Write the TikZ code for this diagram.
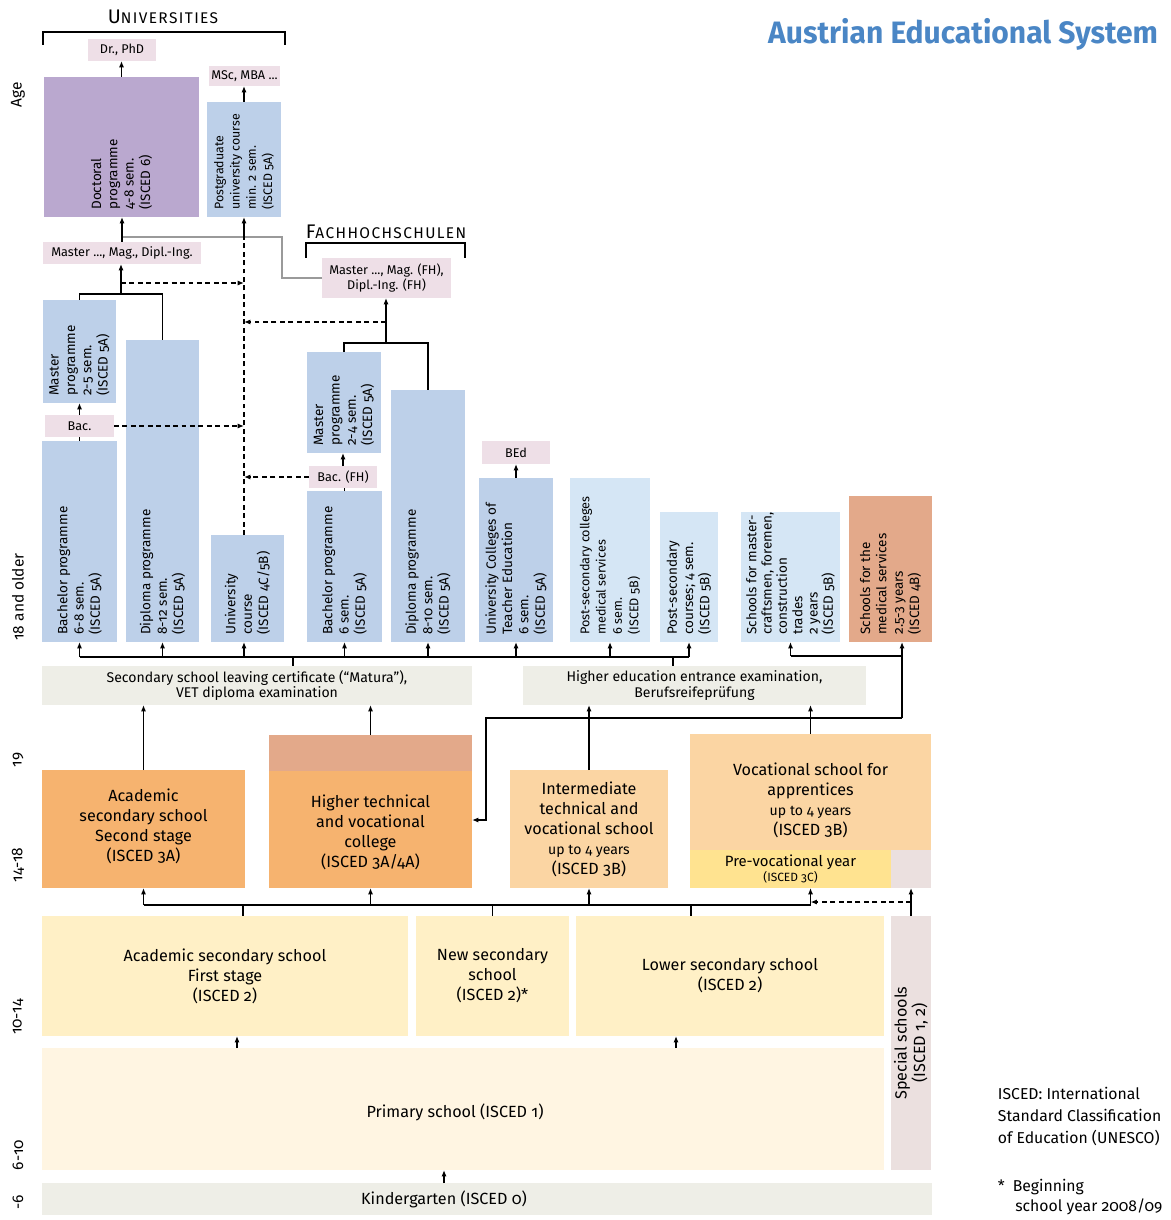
\documentclass[tikz,border=0pt]{standalone}
\usepackage{fontspec}
\setmainfont{Fira Sans}[Numbers=OldStyle]
\usepackage{graphicx}
\usepackage{tikz}
\usetikzlibrary{fit,arrows.meta}

\definecolor{tagpink}{HTML}{EEDFE7}
\definecolor{docpurple}{HTML}{BAA8CF}
\definecolor{progblue}{HTML}{BDD0E9}
\definecolor{paleblue}{HTML}{D5E6F5}
\definecolor{salmon}{HTML}{E3A98A}
\definecolor{deeporange}{HTML}{F6B36F}
\definecolor{softorange}{HTML}{FBD5A3}
\definecolor{preyellow}{HTML}{FFE390}
\definecolor{lowyellow}{HTML}{FFF0C6}
\definecolor{primyellow}{HTML}{FFF5E2}
\definecolor{bargrey}{HTML}{EEEEE7}
\definecolor{specgrey}{HTML}{EBE0DF}
\definecolor{titleblue}{HTML}{4A86C5}
\definecolor{linegrey}{HTML}{9A9A9A}

\begin{document}
\begin{tikzpicture}[x=0.025cm, y=-0.025cm,
    box/.style={inner sep=0pt, outer sep=0pt},
    tag/.style={box, fill=tagpink},
    prog/.style={box, fill=progblue},
    tagtext/.style={align=center, inner sep=0pt, font=\fontsize{9}{10.8}\selectfont},
    schooltext/.style={align=center, inner sep=0pt, font=\fontsize{11.5}{14.2}\selectfont},
    bartext/.style={align=center, inner sep=0pt, font=\fontsize{10}{11.3}\selectfont},
    vlabel/.style={rotate=90, anchor=west, align=left, inner sep=0pt, font=\fontsize{9.6}{11.6}\selectfont},
    agelabel/.style={rotate=90, font=\fontsize{11}{12}\selectfont},
    link/.style={line width=0.9pt},
    arr/.style={link, -{Latex[length=4.5pt,width=3.6pt]}},
    darr/.style={arr, dash pattern=on 3.5pt off 2.5pt},
    dline/.style={link, dash pattern=on 3.5pt off 2.5pt},
    greyline/.style={line width=1.2pt, draw=linegrey}]

    \useasboundingbox (0,0) rectangle (1170,1220);

    % title and side notes
    \node[anchor=east, text=titleblue, font=\bfseries\fontsize{22}{24}\selectfont] (title) at (1163,34) {\scalebox{0.97}[1]{Austrian Educational System}};
    \node[anchor=north west, align=left, font=\fontsize{11.2}{15.8}\selectfont] (isced) at (993,1082) {ISCED: International\\Standard Classification\\of Education (UNESCO)};
    \node[anchor=north west, align=left, font=\fontsize{11.2}{14.5}\selectfont] (star) at (993,1174) {*\enspace Beginning\\\hspace*{1.1em}school year 2008/09};

    % age axis
    \node[agelabel] (age) at (18,95) {Age};
    \node[agelabel] (age18) at (18,597) {18 and older};
    \node[agelabel] (age19) at (18,760) {19};
    \node[agelabel] (age14) at (18,865) {14-18};
    \node[agelabel] (age10) at (18,1017) {10-14};
    \node[agelabel] (age6) at (18,1155) {6-10};
    \node[agelabel] (age0) at (18,1202) {-6};

    % universities
    \node (unihead) at (163,17) {{\fontsize{14}{14}\selectfont U}{\fontsize{11}{14}\selectfont\addfontfeature{LetterSpace=9}NIVERSITIES}};
    \draw[link] (43,45) -- (43,32) -- (285,32) -- (285,45);
    \node[tag, fit={(88,39) (156,61)}] (drphd) {};
    \node[tagtext] at (drphd) {Dr., PhD};
    \node[tag, fit={(209,66) (280,86)}] (msc) {};
    \node[tagtext] at (msc) {MSc, MBA ...};
    \node[box, fill=docpurple, fit={(44,77) (199,217)}] (doct) {};
    \node[vlabel] at ([yshift=5pt]doct.south) {Doctoral\\programme\\4-8 sem.\\(ISCED 6)};
    \node[prog, fit={(207,102) (281,217)}] (postgrad) {};
    \node[vlabel, font=\fontsize{8.8}{11.6}\selectfont] at ([yshift=5pt]postgrad.south) {Postgraduate\\university course\\min. 2 sem.\\(ISCED 5A)};
    \node[tag, fit={(43,242) (201,264)}] (mag) {};
    \node[tagtext] at (mag) {Master ..., Mag., Dipl.-Ing.};
    \node[prog, fit={(43,300) (116,403)}] (mprog) {};
    \node[vlabel] at ([yshift=5pt]mprog.south) {Master\\programme\\2-5 sem.\\(ISCED 5A)};
    \node[tag, fit={(45,415) (114,437)}] (bac) {};
    \node[tagtext] at (bac) {Bac.};
    \node[prog, fit={(42,441) (117,642)}] (bach) {};
    \node[vlabel] at ([yshift=5pt]bach.south) {Bachelor programme\\6-8 sem.\\(ISCED 5A)};
    \node[prog, fit={(126,340) (199,642)}] (dprog) {};
    \node[vlabel] at ([yshift=5pt]dprog.south) {Diploma programme\\8-12 sem.\\(ISCED 5A)};
    \node[prog, fit={(211,535) (284,642)}] (ucourse) {};
    \node[vlabel] at ([yshift=5pt]ucourse.south) {University\\course\\(ISCED 4C/5B)};

    % fachhochschulen
    \node (fhhead) at (386,232) {{\fontsize{14}{14}\selectfont F}{\fontsize{11}{14}\selectfont\addfontfeature{LetterSpace=9}ACHHOCHSCHULEN}};
    \draw[link] (306,258) -- (306,243) -- (465,243) -- (465,258);
    \node[tag, fit={(322,258) (451,298)}] (fhmag) {};
    \node[tagtext] at (fhmag) {Master ..., Mag. (FH),\\Dipl.-Ing. (FH)};
    \node[prog, fit={(307,352) (381,453)}] (fmprog) {};
    \node[vlabel] at ([yshift=5pt]fmprog.south) {Master\\programme\\2-4 sem.\\(ISCED 5A)};
    \node[tag, fit={(309,466) (377,488)}] (fbac) {};
    \node[tagtext] at (fbac) {Bac. (FH)};
    \node[prog, fit={(307,491) (382,642)}] (fbach) {};
    \node[vlabel] at ([yshift=5pt]fbach.south) {Bachelor programme\\6 sem.\\(ISCED 5A)};
    \node[prog, fit={(391,390) (465,642)}] (fdprog) {};
    \node[vlabel] at ([yshift=5pt]fdprog.south) {Diploma programme\\8-10 sem.\\(ISCED 5A)};

    % other post-secondary
    \node[tag, fit={(482,441) (550,464)}] (bed) {};
    \node[tagtext] at (bed) {BEd};
    \node[prog, fit={(479,478) (553,642)}] (ucte) {};
    \node[vlabel] at ([yshift=5pt]ucte.south) {University Colleges of\\Teacher Education\\6 sem.\\(ISCED 5A)};
    \node[box, fill=paleblue, fit={(570,478) (650,642)}] (pscoll) {};
    \node[vlabel, font=\fontsize{9}{11.6}\selectfont] at ([yshift=5pt]pscoll.south) {Post-secondary colleges\\medical services\\6 sem.\\(ISCED 5B)};
    \node[box, fill=paleblue, fit={(660,512) (718,642)}] (pscourse) {};
    \node[vlabel] at ([yshift=5pt]pscourse.south) {Post-secondary\\courses; 4 sem.\\(ISCED 5B)};
    \node[box, fill=paleblue, fit={(741,512) (840,642)}] (mcraft) {};
    \node[vlabel, font=\fontsize{9.6}{10.9}\selectfont] at ([yshift=5pt]mcraft.south) {Schools for master-\\craftsmen, foremen,\\construction\\trades\\2 years\\(ISCED 5B)};
    \node[box, fill=salmon, fit={(849,496) (932,642)}] (medsch) {};
    \node[vlabel] at ([yshift=5pt]medsch.south) {Schools for the\\medical services\\2.5-3 years\\(ISCED 4B)};

    % leaving examinations
    \node[box, fill=bargrey, fit={(42,666) (472,705)}] (matura) {};
    \node[bartext] at (matura) {Secondary school leaving certificate (“Matura”),\\VET diploma examination};
    \node[box, fill=bargrey, fit={(523,666) (866,705)}] (hee) {};
    \node[bartext] at (hee) {Higher education entrance examination,\\Berufsreifeprüfung};

    % upper secondary
    \node[box, fill=deeporange, fit={(42,770) (245,888)}] (acad2) {};
    \node[schooltext] at ([yshift=2pt]acad2.center) {Academic\\secondary school\\Second stage\\(ISCED 3A)};
    \node[box, fit={(269,735) (472,888)}] (htech) {};
    \node[box, fill=salmon, fit={(269,735) (472,771)}] (htechtop) {};
    \node[box, fill=deeporange, fit={(269,771) (472,888)}] (htechlow) {};
    \node[schooltext] at ([yshift=-2pt]htechlow.center) {Higher technical\\and vocational\\college\\(ISCED 3A/4A)};
    \node[box, fill=softorange, fit={(510,770) (668,888)}] (interm) {};
    \node[schooltext] at (interm) {Intermediate\\technical and\\vocational school\\{\fontsize{10}{14.2}\selectfont up to 4 years}\\(ISCED 3B)};
    \node[box, fill=softorange, fit={(690,734) (931,850)}] (voc) {};
    \node[schooltext] at ([yshift=-6pt]voc.center) {Vocational school for\\apprentices\\{\fontsize{10}{14.2}\selectfont up to 4 years}\\(ISCED 3B)};
    \node[box, fill=preyellow, fit={(690,850) (891,888)}] (prevoc) {};
    \node[align=center, inner sep=0pt, font=\fontsize{10.6}{11}\selectfont] at (prevoc) {Pre-vocational year\\{\fontsize{8.5}{10}\selectfont (ISCED 3C)}};
    \node[box, fill=specgrey, fit={(891,850) (931,888)}] (prevocx) {};

    % lower secondary, primary
    \node[box, fill=lowyellow, fit={(42,916) (408,1036)}] (acad1) {};
    \node[schooltext] at (acad1) {Academic secondary school\\First stage\\(ISCED 2)};
    \node[box, fill=lowyellow, fit={(416,916) (569,1036)}] (nms) {};
    \node[schooltext] at (nms) {New secondary\\school\\(ISCED 2)*};
    \node[box, fill=lowyellow, fit={(576,916) (884,1036)}] (lsec) {};
    \node[schooltext] at (lsec) {Lower secondary school\\(ISCED 2)};
    \node[box, fill=specgrey, fit={(891,916) (931,1170)}] (sps) {};
    \node[rotate=90, align=center, inner sep=0pt, font=\fontsize{11.5}{12}\selectfont] at (911,1043) {Special schools\\(ISCED 1, 2)};
    \node[box, fill=primyellow, fit={(42,1048) (884,1170)}] (prim) {};
    \node[schooltext] at (455,1112) {Primary school (ISCED 1)};
    \node[box, fill=bargrey, fit={(42,1183) (932,1215)}] (kinder) {};
    \node[schooltext] at (444,1199) {Kindergarten (ISCED 0)};

    % university links
    \draw[arr] (doct.north) -- (doct.north |- drphd.south);
    \draw[arr] (postgrad.north) -- (postgrad.north |- msc.south);
    \coordinate (gcorner) at (282,237);
    \draw[greyline] (fhmag.west) -| (gcorner) -- (gcorner -| doct.south);
    \draw[arr] (mag.north) -- (mag.north |- doct.south);
    \draw[arr] (gcorner -| postgrad.south) -- (postgrad.south);
    \draw[dline] (postgrad.south |- ucourse.north) -- (gcorner -| postgrad.south);
    \coordinate (ufork) at (121,294);
    \draw[link] (mprog.north) |- (ufork) -| (dprog.north);
    \draw[arr] (ufork) -- (ufork |- mag.south);
    \draw[darr] (ufork |- 0,283) -- (postgrad.south |- 0,283);
    \draw[arr] (bac.north) -- (bac.north |- mprog.south);
    \draw[link] (bach.north) -- (bach.north |- bac.south);
    \draw[darr] (bac.east) -- (postgrad.south |- bac.east);

    % fachhochschule links
    \coordinate (ffork) at (386,343);
    \draw[link] (fmprog.north) |- (ffork) -| (fdprog.north);
    \draw[arr] (ffork) -- (ffork |- fhmag.south);
    \draw[darr] (ffork |- 0,322) -- (postgrad.south |- 0,322);
    \draw[arr] (fbac.north) -- (fbac.north |- fmprog.south);
    \draw[link] (fbach.north) -- (fbach.north |- fbac.south);
    \draw[darr] (fbac.west) -- (postgrad.south |- fbac.west);
    \draw[arr] (ucte.north) -- (ucte.north |- bed.south);

    % from the examinations
    \draw[link] (bach.south |- 0,657) -- (pscourse.south |- 0,657);
    \draw[arr] (bach.south |- 0,657) -- (bach.south);
    \draw[arr] (dprog.south |- 0,657) -- (dprog.south);
    \draw[arr] (postgrad.south |- 0,657) -- (postgrad.south |- ucourse.south);
    \draw[arr] (fbach.south |- 0,657) -- (fbach.south);
    \draw[arr] (fdprog.south |- 0,657) -- (fdprog.south);
    \draw[arr] (ucte.south |- 0,657) -- (ucte.south);
    \draw[arr] (pscoll.south |- 0,657) -- (pscoll.south);
    \draw[arr] (pscourse.south |- 0,657) -- (pscourse.south);
    \draw[link] (293,657) -- (matura.north -| 293,0);
    \draw[link] (673,657) -- (hee.north -| 673,0);

    % vocational links
    \coordinate (vjunc) at (902,718);
    \draw[link] (mcraft.south |- 0,656) -| (vjunc);
    \draw[arr] (mcraft.south |- 0,656) -- (mcraft.south);
    \draw[arr] (vjunc |- 0,656) -- (vjunc |- medsch.south);
    \draw[arr] (vjunc) -| (486,820) -- (htech.east |- 0,820);
    \draw[arr] (interm.north) -- (interm.north |- hee.south);
    \draw[arr] (voc.north) -- (voc.north |- hee.south);
    \draw[arr] (acad2.north) -- (acad2.north |- matura.south);
    \draw[arr] (htech.north) -- (htech.north |- matura.south);

    % from lower secondary
    \draw[link] (acad2.south |- 0,905) -- (voc.south |- 0,905);
    \draw[arr] (acad2.south |- 0,905) -- (acad2.south);
    \draw[arr] (htech.south |- 0,905) -- (htech.south);
    \draw[arr] (interm.south |- 0,905) -- (interm.south);
    \draw[arr] (voc.south |- 0,905) -- (voc.south |- prevoc.south);
    \draw[link] (243,905) -- (acad1.north -| 243,0);
    \draw[link] (nms.north |- 0,905) -- (nms.north);
    \draw[link] (691,905) -- (lsec.north -| 691,0);
    \draw[arr] (sps.north) -- (sps.north |- prevocx.south);
    \draw[darr] (sps.north |- 0,902) -- (voc.south |- 0,902);

    % primary, kindergarten
    \draw[arr] (prim.north -| 237,0) -- (acad1.south -| 237,0);
    \draw[arr] (prim.north -| 676,0) -- (lsec.south -| 676,0);
    \draw[arr] (kinder.north -| 444,0) -- (prim.south -| 444,0);
\end{tikzpicture}
\end{document}
